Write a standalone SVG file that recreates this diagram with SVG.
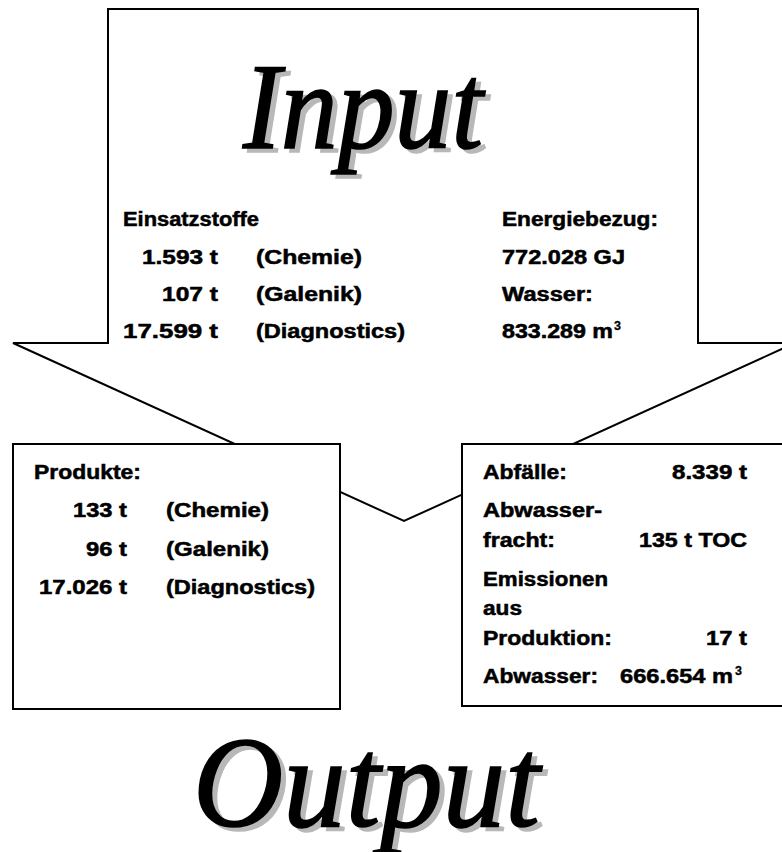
<svg xmlns="http://www.w3.org/2000/svg" width="782" height="852" viewBox="0 0 782 852">
<style>
.ln{fill:#fff;stroke:#000;stroke-width:2}
.t{font-family:"Liberation Sans",Arial,sans-serif;font-weight:bold;font-size:19.5px;fill:#000;stroke:#000;stroke-width:0.5}
.sup{font-family:"Liberation Sans",Arial,sans-serif;font-weight:bold;font-size:12.5px;fill:#000;stroke:#000;stroke-width:0.3}
.big{font-family:"Liberation Serif","DejaVu Serif",serif;font-style:italic;stroke-width:1.6}
.bk{fill:#000;stroke:#000}
.sh{fill:#b8b8b8;stroke:#b8b8b8}
</style>
<g id="connectors">
<polygon class="ln" points="108,9 698,9 698,343 795,343 404,521 13,343 108,343"/>
</g>
<g id="input">
<text class="big sh" x="248" y="152" font-size="122" textLength="240" lengthAdjust="spacingAndGlyphs">Input</text>
<text class="big bk" x="243" y="148" font-size="122" textLength="240" lengthAdjust="spacingAndGlyphs">Input</text>
<text class="t" x="123" y="226" textLength="136" lengthAdjust="spacingAndGlyphs">Einsatzstoffe</text>
<text class="t" x="142" y="263.5" textLength="76" lengthAdjust="spacingAndGlyphs">1.593 t</text>
<text class="t" x="162" y="301" textLength="56" lengthAdjust="spacingAndGlyphs">107 t</text>
<text class="t" x="123" y="338" textLength="95" lengthAdjust="spacingAndGlyphs">17.599 t</text>
<text class="t" x="256" y="263.5" textLength="106" lengthAdjust="spacingAndGlyphs">(Chemie)</text>
<text class="t" x="256" y="301" textLength="106" lengthAdjust="spacingAndGlyphs">(Galenik)</text>
<text class="t" x="256" y="338" textLength="149" lengthAdjust="spacingAndGlyphs">(Diagnostics)</text>
<text class="t" x="502" y="226" textLength="156" lengthAdjust="spacingAndGlyphs">Energiebezug:</text>
<text class="t" x="502" y="263.5" textLength="123" lengthAdjust="spacingAndGlyphs">772.028 GJ</text>
<text class="t" x="502" y="301" textLength="91" lengthAdjust="spacingAndGlyphs">Wasser:</text>
<text class="t" x="502" y="338" textLength="111" lengthAdjust="spacingAndGlyphs">833.289 m</text>
<text class="sup" x="614" y="330">3</text>
</g>
<g id="produkte">
<rect class="ln" x="13" y="444" width="327" height="265"/>
<text class="t" x="34" y="479" textLength="107" lengthAdjust="spacingAndGlyphs">Produkte:</text>
<text class="t" x="73" y="517" textLength="54" lengthAdjust="spacingAndGlyphs">133 t</text>
<text class="t" x="86" y="556" textLength="41" lengthAdjust="spacingAndGlyphs">96 t</text>
<text class="t" x="39" y="594" textLength="88" lengthAdjust="spacingAndGlyphs">17.026 t</text>
<text class="t" x="166" y="517" textLength="103" lengthAdjust="spacingAndGlyphs">(Chemie)</text>
<text class="t" x="166" y="556" textLength="103" lengthAdjust="spacingAndGlyphs">(Galenik)</text>
<text class="t" x="166" y="594" textLength="149" lengthAdjust="spacingAndGlyphs">(Diagnostics)</text>
</g>
<g id="emissionen">
<rect class="ln" x="462" y="444" width="330" height="262"/>
<text class="t" x="483" y="479" textLength="84" lengthAdjust="spacingAndGlyphs">Abfälle:</text>
<text class="t" x="672" y="479" textLength="75" lengthAdjust="spacingAndGlyphs">8.339 t</text>
<text class="t" x="483" y="517" textLength="119" lengthAdjust="spacingAndGlyphs">Abwasser-</text>
<text class="t" x="483" y="547" textLength="72" lengthAdjust="spacingAndGlyphs">fracht:</text>
<text class="t" x="639" y="547" textLength="108" lengthAdjust="spacingAndGlyphs">135 t TOC</text>
<text class="t" x="483" y="586" textLength="125" lengthAdjust="spacingAndGlyphs">Emissionen</text>
<text class="t" x="483" y="615" textLength="39" lengthAdjust="spacingAndGlyphs">aus</text>
<text class="t" x="483" y="645" textLength="129" lengthAdjust="spacingAndGlyphs">Produktion:</text>
<text class="t" x="706" y="645" textLength="41" lengthAdjust="spacingAndGlyphs">17 t</text>
<text class="t" x="483" y="683" textLength="115" lengthAdjust="spacingAndGlyphs">Abwasser:</text>
<text class="t" x="620" y="683" textLength="113" lengthAdjust="spacingAndGlyphs">666.654 m</text>
<text class="sup" x="735" y="675">3</text>
</g>
<g id="output">
<text class="big sh" x="198" y="830" font-size="130" textLength="347" lengthAdjust="spacingAndGlyphs">Output</text>
<text class="big bk" x="193" y="826" font-size="130" textLength="347" lengthAdjust="spacingAndGlyphs">Output</text>
</g>
</svg>
